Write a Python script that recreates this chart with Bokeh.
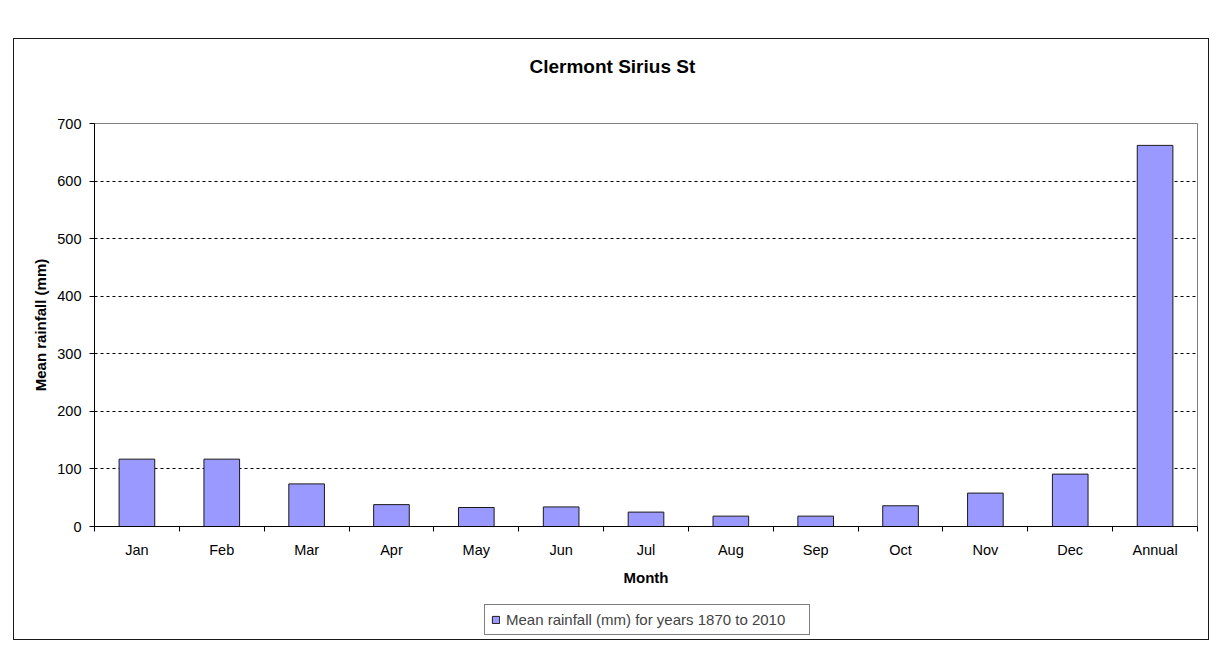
from bokeh.plotting import figure
from bokeh.models import FixedTicker, Legend, LegendItem, ColumnDataSource, Range1d, Title
from bokeh.layouts import column
from bokeh.embed import file_html
from bokeh.resources import INLINE

months = ["Jan", "Feb", "Mar", "Apr", "May", "Jun", "Jul", "Aug", "Sep", "Oct", "Nov", "Dec", "Annual"]
rainfall = [117, 117, 74, 38, 33, 34, 25, 18, 18, 36, 58, 91, 662]
yticks = [0, 100, 200, 300, 400, 500, 600, 700]
series_label = "Mean rainfall (mm) for years 1870 to 2010"

FONT = "Liberation Sans"
BAR_FILL = "#9999FF"
BAR_LINE = "#1a1a1a"

xpos = [i + 0.5 for i in range(len(months))]
src = ColumnDataSource(dict(x=xpos, top=rainfall, label=months))

# ---------------- main chart ----------------
p = figure(width=1194, height=562, x_range=Range1d(0, len(months)), y_range=Range1d(0, 700),
           output_backend="svg", toolbar_location=None,
           min_border_left=80, min_border_right=11, min_border_top=84, min_border_bottom=75,
           title="Clermont Sirius St")
p.background_fill_color = "white"
p.border_fill_color = "white"
p.outline_line_color = "#808080"
p.outline_line_width = 1

r = p.vbar(x="x", top="top", width=0.42, source=src, fill_color=BAR_FILL,
           line_color=BAR_LINE, line_width=1)

# spacer between title and plot area
p.add_layout(Title(text=" ", text_font_size="1px", standoff=44), "above")

p.title.align = "left"
p.title.offset = 435
p.title.text_font = FONT
p.title.text_font_size = "19px"
p.title.text_font_style = "bold"
p.title.text_color = "#000000"
p.title.standoff = 0

xa = p.xaxis[0]
xa.ticker = FixedTicker(ticks=xpos, minor_ticks=list(range(len(months) + 1)))
xa.major_label_overrides = {xp: m for xp, m in zip(xpos, months)}
xa.major_tick_out = 0
xa.major_tick_in = 0
xa.minor_tick_out = 5
xa.minor_tick_in = 0
xa.minor_tick_line_color = "#000000"
xa.axis_line_color = "#000000"
xa.major_label_text_font = FONT
xa.major_label_text_font_size = "14.5px"
xa.major_label_text_color = "#000000"
xa.major_label_standoff = 10
xa.axis_label = "Month"
xa.axis_label_text_font = FONT
xa.axis_label_text_font_size = "15px"
xa.axis_label_text_font_style = "bold"
xa.axis_label_text_color = "#000000"
xa.axis_label_standoff = 8

ya = p.yaxis[0]
ya.ticker = FixedTicker(ticks=yticks)
ya.minor_tick_line_color = None
ya.major_tick_out = 5
ya.major_tick_in = 0
ya.major_tick_line_color = "#000000"
ya.axis_line_color = "#000000"
ya.major_label_text_font = FONT
ya.major_label_text_font_size = "14.5px"
ya.major_label_text_color = "#000000"
ya.major_label_standoff = 8
ya.axis_label = "Mean rainfall (mm)"
ya.axis_label_text_font = FONT
ya.axis_label_text_font_size = "15px"
ya.axis_label_text_font_style = "bold"
ya.axis_label_text_color = "#000000"
ya.axis_label_standoff = 5

p.xgrid.visible = False
p.ygrid.ticker = FixedTicker(ticks=yticks[1:-1])
p.ygrid.grid_line_color = "#000000"
p.ygrid.grid_line_dash = "3 3"
p.ygrid.grid_line_width = 1

# ---------------- legend strip ----------------
p2 = figure(width=1194, height=38, x_range=Range1d(0, len(months)), y_range=Range1d(-2, -1),
            output_backend="svg", toolbar_location=None,
            x_axis_location=None, y_axis_location=None, min_border=0)
p2.outline_line_color = None
p2.background_fill_color = "white"
p2.border_fill_color = "white"
p2.xgrid.visible = False
p2.ygrid.visible = False
# same series (hidden here): only its legend swatch is shown
r2 = p2.vbar(x="x", top="top", width=0.42, source=src, fill_color=BAR_FILL,
             line_color=BAR_LINE, line_width=1)
r2.visible = False

legend = Legend(items=[LegendItem(label=series_label, renderers=[r2])],
                location=(390, 4), orientation="horizontal",
                border_line_color="#000000", border_line_width=1,
                background_fill_color="white", background_fill_alpha=1,
                inactive_fill_alpha=0,
                label_text_font=FONT, label_text_font_size="15px",
                glyph_width=9, glyph_height=9, label_standoff=6,
                padding=6, margin=0, spacing=0, label_height=17, label_width=297)
p2.add_layout(legend, "center")

layout = column(p, p2, spacing=0,
                styles={"margin-left": "13px", "margin-top": "38px", "border": "1px solid #1a1a1a"})

open("out.html", "w").write(file_html(layout, INLINE))
